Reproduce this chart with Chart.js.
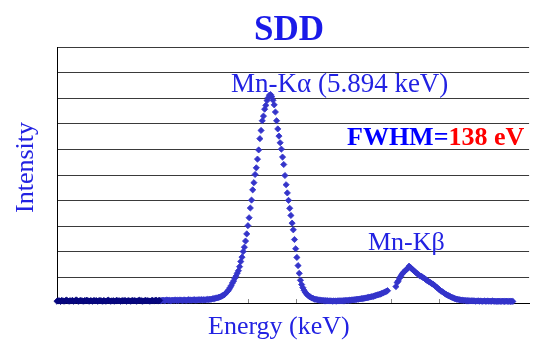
<!DOCTYPE html>
<html>
<head>
<meta charset="utf-8">
<title>SDD</title>
<script src="https://cdn.jsdelivr.net/npm/chart.js@4"></script>
<style>
body{margin:0;background:#fff}
</style>
</head>
<body>
<canvas id="chart" width="533" height="340"></canvas>
<script>

const chartTitle = "SDD"
const xTitle = "Energy (keV)"
const yTitle = "Intensity"
const kaLabel = "Mn-K\u03b1 (5.894 keV)"
const kbLabel = "Mn-K\u03b2"
const fwhmLabel = "FWHM="
const fwhmValue = "138 eV"

// energy axis (keV)
const xMin = 5.0
const xMax = 6.978
const xStep = 0.2
const yMax = 10

// spectrum: 5 eV channels starting at 5.000 keV
const firstEnergy = 5.0
const channelWidth = 0.005

// first part of the spectrum (dark markers), 5.000 - 5.430 keV
const lowCounts = [
0.07,0.09,0.08,0.06,0.10,0.08,0.07,0.09,0.11,0.08,
0.07,0.09,0.08,0.10,0.07,0.08,0.12,0.09,0.07,0.08,
0.10,0.08,0.07,0.09,0.08,0.11,0.08,0.07,0.09,0.08,
0.07,0.10,0.08,0.09,0.07,0.08,0.10,0.08,0.07,0.09,
0.08,0.07,0.09,0.11,0.08,0.07,0.08,0.09,0.07,0.08,
0.10,0.08,0.09,0.07,0.08,0.09,0.08,0.10,0.07,0.08,
0.09,0.08,0.07,0.10,0.08,0.09,0.08,0.07,0.09,0.11,
0.08,0.09,0.07,0.08,0.10,0.08,0.09,0.08,0.07,0.09,
0.10,0.08,0.09,0.11,0.08,0.09,0.10
]

// rest of the spectrum, 5.435 - 6.910 keV (null = no data)
const counts = [
// 5.435 - 5.620
0.09,0.10,0.11,0.09,0.10,0.12,0.10,0.11,0.09,0.10,
0.11,0.10,0.12,0.10,0.11,0.10,0.12,0.11,0.10,0.11,
0.12,0.10,0.11,0.13,0.11,0.12,0.11,0.12,0.13,0.11,
0.12,0.12,0.13,0.12,0.13,0.12,0.13,0.12,
// Mn-Ka 5.625 - 6.100
0.13,0.14,0.13,0.15,0.14,0.16,0.17,0.17,0.19,0.20,
0.21,0.23,0.24,0.27,0.29,0.32,0.36,0.41,0.46,0.52,
0.60,0.68,0.78,0.86,0.97,1.05,1.16,1.26,1.42,1.62,
1.79,2.01,2.18,2.42,2.70,3.02,3.33,3.71,4.02,4.42,
4.70,5.02,5.28,5.62,5.98,6.42,6.74,7.12,7.30,7.57,
7.72,7.91,8.02,8.12,8.14,8.06,7.92,7.74,7.46,7.12,
6.80,6.52,6.26,6.01,5.70,5.41,4.98,4.62,4.30,4.01,
3.70,3.42,3.12,2.86,2.48,2.12,1.78,1.46,1.16,0.89,
0.72,0.60,0.50,0.42,0.36,0.31,0.27,0.24,0.21,0.19,
0.17,0.15,0.14,0.13,0.12,0.11,
// valley 6.105 - 6.385
0.11,0.10,0.10,0.09,0.09,0.08,0.09,0.08,0.08,0.08,
0.07,0.08,0.08,0.07,0.08,0.08,0.08,0.09,0.08,0.09,
0.09,0.10,0.10,0.10,0.11,0.11,0.12,0.12,0.13,0.13,
0.14,0.15,0.15,0.16,0.17,0.17,0.18,0.19,0.20,0.21,
0.22,0.23,0.24,0.25,0.26,0.28,0.29,0.31,0.32,0.34,
0.35,0.37,0.39,0.41,0.43,0.46,0.48,
// 6.390 - 6.415
null,null,null,null,null,null,
// Mn-Kb 6.420 - 6.700
0.64,0.80,0.86,0.97,1.04,1.12,1.18,1.22,1.28,1.31,
1.36,1.44,1.40,1.34,1.31,1.26,1.22,1.18,1.14,1.10,
1.06,1.05,1.02,0.98,0.96,0.92,0.88,0.85,0.82,0.80,
0.76,0.74,0.70,0.66,0.62,0.58,0.54,0.50,0.46,0.44,
0.40,0.37,0.34,0.31,0.29,0.27,0.24,0.22,0.20,0.18,
0.16,0.15,0.14,0.13,0.12,0.11,0.11,
// tail 6.705 - 6.910
0.10,0.10,0.09,0.09,0.09,0.08,0.09,0.08,0.08,0.08,
0.07,0.08,0.08,0.07,0.08,0.07,0.07,0.08,0.07,0.07,
0.08,0.07,0.07,0.07,0.08,0.07,0.07,0.06,0.07,0.07,
0.07,0.06,0.07,0.07,0.06,0.07,0.07,0.06,0.07,0.06,
0.07,0.06
]

const serif = "'Liberation Serif', 'Times New Roman', serif"
const labelBlue = "#2222e2"

function toPoints(values, offset){
  const pts = []
  for(let i = 0; i < values.length; i++){
    pts.push({x: firstEnergy + (offset + i) * channelWidth, y: values[i]})
  }
  return pts
}

const decorations = {
  id: "decorations",
  beforeDatasetsDraw(chart){
    // small inward tick marks on the energy axis
    const xs = chart.scales.x
    const ctx = chart.ctx
    const bottom = chart.chartArea.bottom
    ctx.save()
    ctx.strokeStyle = "#8a8a8a"
    ctx.lineWidth = 1
    xs.ticks.forEach(t => {
      const k = t.value / xStep
      if(Math.abs(k - Math.round(k)) > 1e-6 || t.value <= xMin + 1e-6) return
      const px = Math.round(xs.getPixelForValue(t.value)) + 0.5
      ctx.beginPath()
      ctx.moveTo(px, bottom)
      ctx.lineTo(px, bottom - 4)
      ctx.stroke()
    })
    ctx.restore()
  },
  afterDraw(chart){
    const ctx = chart.ctx
    ctx.save()
    ctx.textBaseline = "alphabetic"

    ctx.fillStyle = "#1a1ae8"
    ctx.font = "bold 35px " + serif
    ctx.textAlign = "center"
    ctx.fillText(chartTitle, 289, 40)

    ctx.fillStyle = labelBlue
    ctx.textAlign = "left"
    ctx.font = "27px " + serif
    ctx.fillText(kaLabel, 231, 92)
    ctx.font = "26px " + serif
    ctx.fillText(kbLabel, 368, 250)
    ctx.fillText(xTitle, 208, 334)

    ctx.save()
    ctx.translate(33, 167.5)
    ctx.rotate(-Math.PI / 2)
    ctx.textAlign = "center"
    ctx.fillText(yTitle, 0, 0)
    ctx.restore()

    ctx.font = "bold 26px " + serif
    ctx.fillStyle = "#0000ff"
    ctx.fillText(fwhmLabel, 347, 145)
    const w = ctx.measureText(fwhmLabel).width
    ctx.fillStyle = "#ff0000"
    ctx.fillText(fwhmValue, 347 + w, 145)
    ctx.restore()
  }
}

const pointOpts = {
  showLine: false,
  pointStyle: "rectRot",
  pointRadius: 3.1,
  pointBorderWidth: 0.8,
  pointHoverRadius: 3.1,
  clip: false
}

new Chart(document.getElementById("chart"), {
  type: "scatter",
  data: {
    datasets: [
      Object.assign({
        data: toPoints(lowCounts, 0),
        backgroundColor: "#07077f",
        borderColor: "#07077f"
      }, pointOpts),
      Object.assign({
        data: toPoints(counts, lowCounts.length),
        backgroundColor: "#3434ca",
        borderColor: "#3434ca"
      }, pointOpts)
    ]
  },
  options: {
    responsive: false,
    animation: false,
    events: [],
    layout: {padding: {left: 57, top: 47, right: 0, bottom: 37}},
    plugins: {
      legend: {display: false},
      title: {display: false},
      tooltip: {enabled: false}
    },
    scales: {
      x: {
        type: "linear",
        min: xMin,
        max: xMax,
        ticks: {display: false, stepSize: xStep},
        grid: {drawOnChartArea: false, drawTicks: false},
        border: {display: true, color: "#000", width: 1}
      },
      y: {
        type: "linear",
        min: 0,
        max: yMax,
        ticks: {display: false, stepSize: 1},
        grid: {color: "#3a3a3a", lineWidth: 1, drawTicks: false},
        border: {display: true, color: "#000", width: 1}
      }
    }
  },
  plugins: [decorations]
})

</script>
</body>
</html>
